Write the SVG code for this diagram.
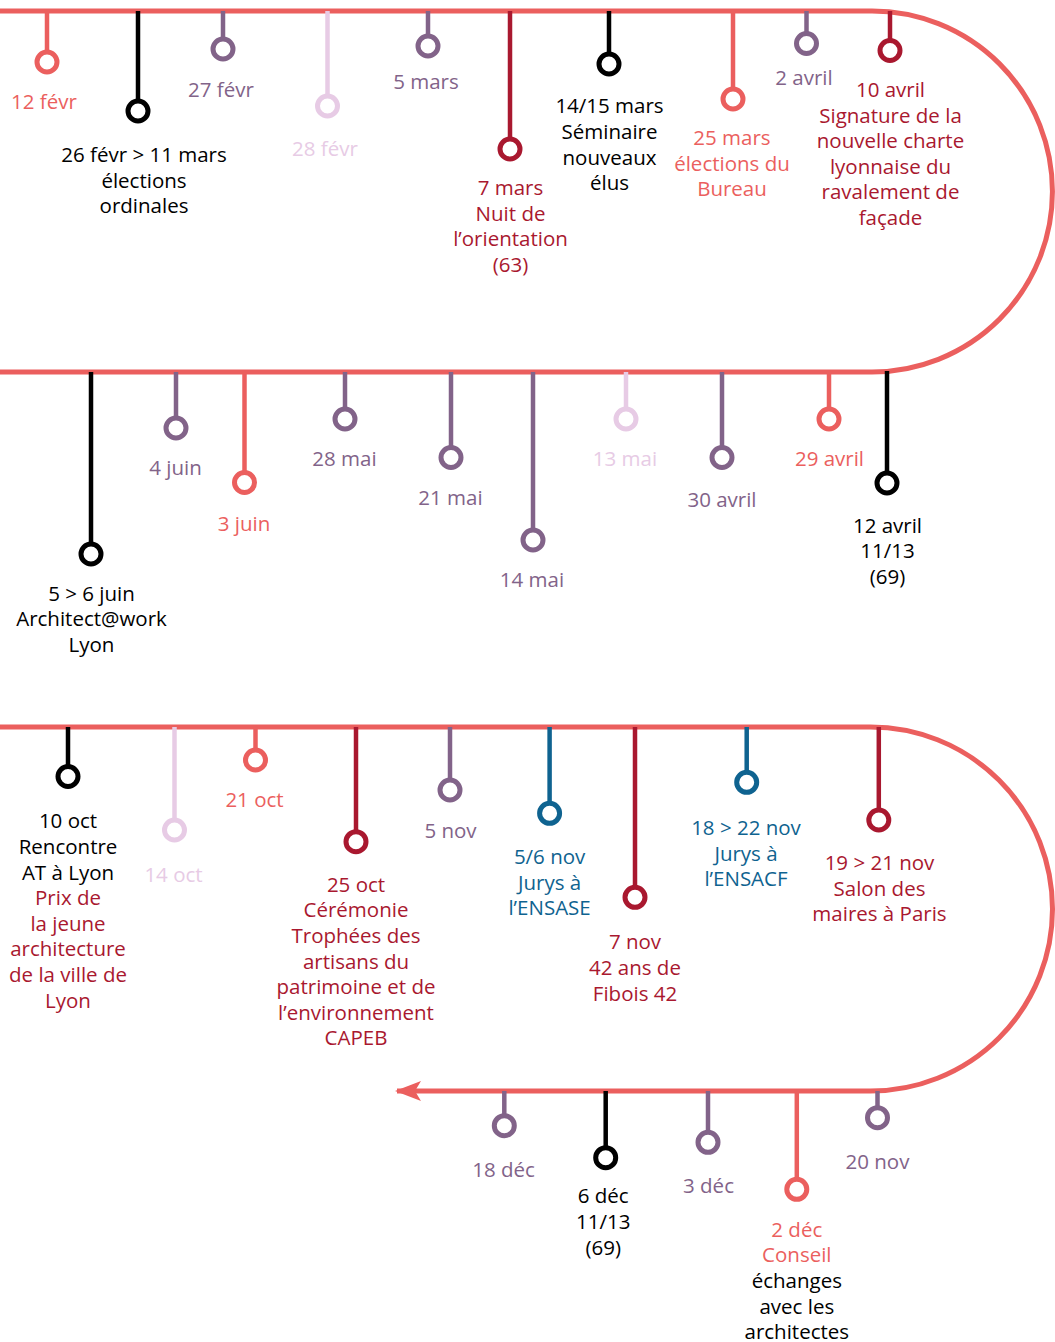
<svg xmlns="http://www.w3.org/2000/svg" width="1055" height="1342" viewBox="0 0 1055 1342">
<defs>
<style>
.tl{fill:none;stroke:#eb5f5e;stroke-width:5}
.stem{stroke-width:4.5;fill:none}
.dot{fill:#fff;stroke-width:5}
text{font-family:"Open Sans","Liberation Sans",sans-serif;font-size:20.5px;text-anchor:middle}
.coral .stem,.coral .dot{stroke:#eb5f5e} .coral text{fill:#eb5f5e}
.purple .stem,.purple .dot{stroke:#826389} .purple text{fill:#826389}
.lpink .stem,.lpink .dot{stroke:#e7cbe5} .lpink text{fill:#e7cbe5}
.crimson .stem,.crimson .dot{stroke:#a9182f} .crimson text{fill:#a9182f}
.blue .stem,.blue .dot{stroke:#0f6390} .blue text{fill:#0f6390}
.black .stem,.black .dot{stroke:#000} .black text{fill:#000}
tspan.k{fill:#000} tspan.r{fill:#a9182f}
</style>
<marker id="arrow" markerUnits="userSpaceOnUse" viewBox="0 0 26 20" refX="24" refY="10" markerWidth="26" markerHeight="20" orient="auto">
<path d="M0,0 L26,10 L0,20 L6,10 Z" fill="#eb5f5e"/>
</marker>
</defs>
<rect width="1055" height="1342" fill="#fff"/>
<g id="connectors">
<path class="tl" d="M0,11 H872 A180.5,180.5 0 0 1 872,372 H0"/>
<path class="tl" d="M0,727 H870.5 A182,182 0 0 1 870.5,1091 H397" marker-end="url(#arrow)"/>
</g>
<!-- top row -->
<g id="n-12fevr" class="coral"><line class="stem" x1="47" y1="11" x2="47" y2="62"/><circle class="dot" cx="47" cy="62" r="10"/><text x="44" y="109">12 févr</text></g>
<g id="n-26fevr" class="black"><line class="stem" x1="138" y1="11" x2="138" y2="111"/><circle class="dot" cx="138" cy="111" r="10"/><text x="144" y="162">26 févr &gt; 11 mars<tspan x="144" dy="25.5">élections</tspan><tspan x="144" dy="25.5">ordinales</tspan></text></g>
<g id="n-27fevr" class="purple"><line class="stem" x1="223" y1="11" x2="223" y2="49"/><circle class="dot" cx="223" cy="49" r="10"/><text x="221" y="97">27 févr</text></g>
<g id="n-28fevr" class="lpink"><line class="stem" x1="327.5" y1="11" x2="327.5" y2="106"/><circle class="dot" cx="327.5" cy="106" r="10"/><text x="325" y="156">28 févr</text></g>
<g id="n-5mars" class="purple"><line class="stem" x1="428" y1="11" x2="428" y2="46"/><circle class="dot" cx="428" cy="46" r="10"/><text x="426" y="89">5 mars</text></g>
<g id="n-7mars" class="crimson"><line class="stem" x1="510" y1="11" x2="510" y2="149"/><circle class="dot" cx="510" cy="149" r="10"/><text x="510.5" y="195">7 mars<tspan x="510.5" dy="25.6">Nuit de</tspan><tspan x="510.5" dy="25.6">l’orientation</tspan><tspan x="510.5" dy="25.6">(63)</tspan></text></g>
<g id="n-14mars" class="black"><line class="stem" x1="609" y1="11" x2="609" y2="64"/><circle class="dot" cx="609" cy="64" r="10"/><text x="609.5" y="113.3">14/15 mars<tspan x="609.5" dy="25.6">Séminaire</tspan><tspan x="609.5" dy="25.6">nouveaux</tspan><tspan x="609.5" dy="25.6">élus</tspan></text></g>
<g id="n-25mars" class="coral"><line class="stem" x1="733" y1="11" x2="733" y2="99"/><circle class="dot" cx="733" cy="99" r="10"/><text x="732" y="145">25 mars<tspan x="732" dy="25.6">élections du</tspan><tspan x="732" dy="25.6">Bureau</tspan></text></g>
<g id="n-2avril" class="purple"><line class="stem" x1="806.5" y1="11" x2="806.5" y2="43.5"/><circle class="dot" cx="806.5" cy="43.5" r="10"/><text x="804" y="85">2 avril</text></g>
<g id="n-10avril" class="crimson"><line class="stem" x1="890" y1="11" x2="890" y2="50.5"/><circle class="dot" cx="890" cy="50.5" r="10"/><text x="890.5" y="97.3">10 avril<tspan x="890.5" dy="25.5">Signature de la</tspan><tspan x="890.5" dy="25.5">nouvelle charte</tspan><tspan x="890.5" dy="25.5">lyonnaise du</tspan><tspan x="890.5" dy="25.5">ravalement de</tspan><tspan x="890.5" dy="25.5">façade</tspan></text></g>
<!-- middle row -->
<g id="n-5juin" class="black"><line class="stem" x1="91" y1="372" x2="91" y2="554"/><circle class="dot" cx="91" cy="554" r="10"/><text x="91.5" y="600.7">5 &gt; 6 juin<tspan x="91.5" dy="25.6">Architect@work</tspan><tspan x="91.5" dy="25.6">Lyon</tspan></text></g>
<g id="n-4juin" class="purple"><line class="stem" x1="176" y1="372" x2="176" y2="428"/><circle class="dot" cx="176" cy="428" r="10"/><text x="175.5" y="475">4 juin</text></g>
<g id="n-3juin" class="coral"><line class="stem" x1="244.5" y1="372" x2="244.5" y2="482.5"/><circle class="dot" cx="244.5" cy="482.5" r="10"/><text x="244" y="530.7">3 juin</text></g>
<g id="n-28mai" class="purple"><line class="stem" x1="345" y1="372" x2="345" y2="419"/><circle class="dot" cx="345" cy="419" r="10"/><text x="344.5" y="466">28 mai</text></g>
<g id="n-21mai" class="purple"><line class="stem" x1="451" y1="372" x2="451" y2="457.5"/><circle class="dot" cx="451" cy="457.5" r="10"/><text x="450.5" y="505">21 mai</text></g>
<g id="n-14mai" class="purple"><line class="stem" x1="533" y1="372" x2="533" y2="540"/><circle class="dot" cx="533" cy="540" r="10"/><text x="532" y="586.7">14 mai</text></g>
<g id="n-13mai" class="lpink"><line class="stem" x1="626" y1="372" x2="626" y2="419"/><circle class="dot" cx="626" cy="419" r="10"/><text x="625" y="466">13 mai</text></g>
<g id="n-30avril" class="purple"><line class="stem" x1="722" y1="372" x2="722" y2="457.5"/><circle class="dot" cx="722" cy="457.5" r="10"/><text x="722" y="506.7">30 avril</text></g>
<g id="n-29avril" class="coral"><line class="stem" x1="829" y1="372" x2="829" y2="419"/><circle class="dot" cx="829" cy="419" r="10"/><text x="829.5" y="466">29 avril</text></g>
<g id="n-12avril" class="black"><line class="stem" x1="887" y1="371" x2="887" y2="483"/><circle class="dot" cx="887" cy="483" r="10"/><text x="887.5" y="532.7">12 avril<tspan x="887.5" dy="25.6">11/13</tspan><tspan x="887.5" dy="25.6">(69)</tspan></text></g>
<!-- third row -->
<g id="n-10oct" class="black"><line class="stem" x1="68" y1="727" x2="68" y2="776.5"/><circle class="dot" cx="68" cy="776.5" r="10"/><text x="68" y="828.3">10 oct<tspan x="68" dy="25.6">Rencontre</tspan><tspan x="68" dy="25.6">AT à Lyon</tspan><tspan class="r" x="68" dy="25.6">Prix de</tspan><tspan class="r" x="68" dy="25.6">la jeune</tspan><tspan class="r" x="68" dy="25.6">architecture</tspan><tspan class="r" x="68" dy="25.6">de la ville de</tspan><tspan class="r" x="68" dy="25.6">Lyon</tspan></text></g>
<g id="n-14oct" class="lpink"><line class="stem" x1="174.5" y1="727" x2="174.5" y2="830"/><circle class="dot" cx="174.5" cy="830" r="10"/><text x="173.5" y="881.7">14 oct</text></g>
<g id="n-21oct" class="coral"><line class="stem" x1="255.5" y1="727" x2="255.5" y2="760"/><circle class="dot" cx="255.5" cy="760" r="10"/><text x="254.5" y="807.3">21 oct</text></g>
<g id="n-25oct" class="crimson"><line class="stem" x1="356" y1="727" x2="356" y2="841.7"/><circle class="dot" cx="356" cy="841.7" r="10"/><text x="356" y="891.7">25 oct<tspan x="356" dy="25.6">Cérémonie</tspan><tspan x="356" dy="25.6">Trophées des</tspan><tspan x="356" dy="25.6">artisans du</tspan><tspan x="356" dy="25.6">patrimoine et de</tspan><tspan x="356" dy="25.6">l’environnement</tspan><tspan x="356" dy="25.6">CAPEB</tspan></text></g>
<g id="n-5nov" class="purple"><line class="stem" x1="450" y1="727" x2="450" y2="790"/><circle class="dot" cx="450" cy="790" r="10"/><text x="450.5" y="838.3">5 nov</text></g>
<g id="n-56nov" class="blue"><line class="stem" x1="549.6" y1="727" x2="549.6" y2="813.3"/><circle class="dot" cx="549.6" cy="813.3" r="10"/><text x="549.6" y="864">5/6 nov<tspan x="549.6" dy="25.5">Jurys à</tspan><tspan x="549.6" dy="25.5">l’ENSASE</tspan></text></g>
<g id="n-7nov" class="crimson"><line class="stem" x1="635" y1="727" x2="635" y2="897.3"/><circle class="dot" cx="635" cy="897.3" r="10"/><text x="635" y="949.3">7 nov<tspan x="635" dy="25.6">42 ans de</tspan><tspan x="635" dy="25.6">Fibois 42</tspan></text></g>
<g id="n-18nov" class="blue"><line class="stem" x1="746.7" y1="727" x2="746.7" y2="782.3"/><circle class="dot" cx="746.7" cy="782.3" r="10"/><text x="746" y="835">18 &gt; 22 nov<tspan x="746" dy="25.6">Jurys à</tspan><tspan x="746" dy="25.6">l’ENSACF</tspan></text></g>
<g id="n-19nov" class="crimson"><line class="stem" x1="878.8" y1="727" x2="878.8" y2="820"/><circle class="dot" cx="878.8" cy="820" r="10"/><text x="879.5" y="870">19 &gt; 21 nov<tspan x="879.5" dy="25.6">Salon des</tspan><tspan x="879.5" dy="25.6">maires à Paris</tspan></text></g>
<!-- bottom row -->
<g id="n-20nov" class="purple"><line class="stem" x1="877.5" y1="1091" x2="877.5" y2="1117.7"/><circle class="dot" cx="877.5" cy="1117.7" r="10"/><text x="877.5" y="1169.3">20 nov</text></g>
<g id="n-2dec" class="coral"><line class="stem" x1="796.8" y1="1091" x2="796.8" y2="1189.3"/><circle class="dot" cx="796.8" cy="1189.3" r="10"/><text x="796.8" y="1236.7">2 déc<tspan x="796.8" dy="25.6">Conseil</tspan><tspan class="k" x="796.8" dy="25.6">échanges</tspan><tspan class="k" x="796.8" dy="25.6">avec les</tspan><tspan class="k" x="796.8" dy="25.6">architectes</tspan></text></g>
<g id="n-3dec" class="purple"><line class="stem" x1="708" y1="1091" x2="708" y2="1142.3"/><circle class="dot" cx="708" cy="1142.3" r="10"/><text x="708.5" y="1192.7">3 déc</text></g>
<g id="n-6dec" class="black"><line class="stem" x1="605.7" y1="1091" x2="605.7" y2="1157.7"/><circle class="dot" cx="605.7" cy="1157.7" r="10"/><text x="603.2" y="1203.3">6 déc<tspan x="603.2" dy="25.6">11/13</tspan><tspan x="603.2" dy="25.6">(69)</tspan></text></g>
<g id="n-18dec" class="purple"><line class="stem" x1="504.3" y1="1091" x2="504.3" y2="1125.7"/><circle class="dot" cx="504.3" cy="1125.7" r="10"/><text x="503.6" y="1176.7">18 déc</text></g>
</svg>
